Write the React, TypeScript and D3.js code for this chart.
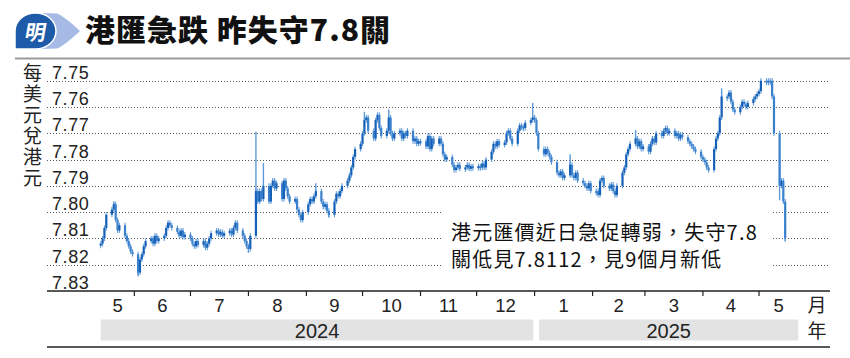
import React from "react";
import * as d3 from "d3";

// ---------- data ----------
const title = "港匯急跌 昨失守7.8關";
const yUnit = "每美元兌港元";
const noteLines = ["港元匯價近日急促轉弱，失守7.8", "關低見7.8112，見9個月新低"];
const yTickLabels = ["7.75", "7.76", "7.77", "7.78", "7.79", "7.80", "7.81", "7.82", "7.83"];
const years = ["2024", "2025"];
const startDate = "2024-05-14";
const endDate = "2025-05-15";
const axisEnd = "2025-05-22";

// daily closes (weekdays), USD/HKD
const may24 = [7.812, 7.81, 7.806, 7.801, 7.799, 7.797, 7.803, 7.807, 7.805, 7.809, 7.811, 7.813, 7.815, 7.816];
const jun24 = [7.823, 7.818, 7.816, 7.813, 7.811, 7.81, 7.812, 7.809, 7.811, 7.81, 7.809, 7.806, 7.804, 7.805, 7.806, 7.8075, 7.809, 7.807, 7.8095, 7.8085];
const jul24 = [7.81, 7.812, 7.813, 7.811, 7.8125, 7.811, 7.8135, 7.812, 7.81, 7.808, 7.807, 7.8085, 7.8075, 7.809, 7.808, 7.807, 7.8085, 7.806, 7.804, 7.807, 7.809, 7.811, 7.813];
const aug24 = [7.814, 7.809, 7.792, 7.796, 7.792, 7.795, 7.79, 7.796, 7.79, 7.788, 7.791, 7.789, 7.795, 7.788, 7.791, 7.794, 7.796, 7.795, 7.799, 7.801, 7.803, 7.8];
const sep24 = [7.797, 7.795, 7.796, 7.794, 7.792, 7.796, 7.798, 7.797, 7.7995, 7.801, 7.796, 7.793, 7.794, 7.792, 7.79, 7.788, 7.786, 7.783, 7.779, 7.776, 7.774];
const oct24 = [7.77, 7.765, 7.764, 7.769, 7.772, 7.765, 7.763, 7.768, 7.771, 7.769, 7.764, 7.77, 7.772, 7.77, 7.769, 7.772, 7.77, 7.771, 7.769, 7.773, 7.772, 7.774, 7.773];
const nov24 = [7.773, 7.775, 7.771, 7.776, 7.772, 7.774, 7.772, 7.774, 7.778, 7.78, 7.779, 7.782, 7.784, 7.783, 7.782, 7.7835, 7.783, 7.782, 7.7835, 7.7825, 7.783];
const dec24 = [7.7825, 7.783, 7.7815, 7.783, 7.78, 7.777, 7.774, 7.775, 7.773, 7.7745, 7.7735, 7.77, 7.769, 7.772, 7.774, 7.769, 7.767, 7.7675, 7.768, 7.766, 7.765, 7.764];
const jan25 = [7.765, 7.77, 7.776, 7.778, 7.776, 7.7775, 7.779, 7.781, 7.785, 7.786, 7.7845, 7.787, 7.786, 7.782, 7.786, 7.787, 7.785, 7.788, 7.789, 7.79, 7.791, 7.789, 7.792];
const feb25 = [7.792, 7.7935, 7.788, 7.787, 7.79, 7.791, 7.7895, 7.792, 7.7935, 7.79, 7.785, 7.783, 7.778, 7.776, 7.774, 7.772, 7.775, 7.773, 7.776, 7.775];
const mar25 = [7.777, 7.774, 7.772, 7.7735, 7.77, 7.771, 7.769, 7.768, 7.77, 7.769, 7.771, 7.77, 7.772, 7.7705, 7.7715, 7.773, 7.774, 7.775, 7.776, 7.777, 7.779];
const apr25 = [7.78, 7.781, 7.783, 7.784, 7.776, 7.772, 7.77, 7.764, 7.756, 7.756, 7.7545, 7.758, 7.761, 7.762, 7.76, 7.758, 7.759, 7.76, 7.7585, 7.757, 7.756, 7.755];
const may25 = [7.754, 7.75, 7.75, 7.75, 7.75, 7.756, 7.77, 7.79, 7.788, 7.796, 7.81];

// intraday extremes
const extremeDates = ["2024-05-21", "2024-06-03", "2024-08-01", "2024-08-05", "2024-08-09", "2024-09-06", "2024-09-13", "2024-10-02", "2024-10-15", "2024-12-31", "2025-01-20", "2025-02-24", "2025-04-04", "2025-04-11", "2025-05-12", "2025-05-15"];
const extremeValues = [7.796, 7.8245, 7.8155, 7.7694, 7.7813, 7.789, 7.802, 7.7618, 7.761, 7.7585, 7.778, 7.7688, 7.7846, 7.7529, 7.7955, 7.8112];

const closes = [...may24, ...jun24, ...jul24, ...aug24, ...sep24, ...oct24, ...nov24, ...dec24, ...jan25, ...feb25, ...mar25, ...apr25, ...may25];

// ---------- chart ----------
const W = 850;
const H = 358;
const parse = d3.timeParse("%Y-%m-%d");
const CJK = "'Noto Sans CJK TC', 'Noto Sans CJK SC', sans-serif";
const NUM = "'Liberation Sans', Arial, sans-serif";
const DARK = "#1660b8";
const MID = "#3a80cc";
const LIGHT = "#5e9ad8";

export default function App() {
  const d0 = parse(startDate) as Date;
  const d1 = parse(endDate) as Date;
  const dEnd = parse(axisEnd) as Date;
  const days = d3
    .timeDays(d0, d3.timeDay.offset(d1, 1))
    .filter((d) => d.getDay() !== 0 && d.getDay() !== 6);
  const n = Math.min(days.length, closes.length);

  const x = d3.scaleTime().domain([d0, dEnd]).range([100.7, 798.3]);
  const yTickValues = yTickLabels.map(Number);
  const y = d3.scaleLinear().domain([7.75, 7.83]).range([80.7, 291]);

  const gridX0 = 47;
  const gridX1 = 830;
  const axisY = y(7.83);

  const monthTicks = d3.timeMonths(d3.timeDay.offset(d0, 1), d3.timeDay.offset(dEnd, 1));
  const monthStarts = d3.timeMonth.range(d3.timeMonth.floor(d0), dEnd);
  const monthLabels = monthStarts.map((m) => {
    const a = m < d0 ? d0 : m;
    const nx = d3.timeMonth.offset(m, 1);
    const b = nx > dEnd ? dEnd : nx;
    return { label: String(m.getMonth() + 1), cx: (x(a) + x(b)) / 2 };
  });

  const jan1 = new Date(2025, 0, 1);
  const bands = [
    { label: years[0], x0: x(d0), x1: x(jan1) - 1.2 },
    { label: years[1], x0: x(jan1) + 4.5, x1: x(dEnd) },
  ];

  const dayKey = d3.timeFormat("%Y-%m-%d");
  const idxByDate = new Map<string, number>();
  days.slice(0, n).forEach((d, i) => idxByDate.set(dayKey(d), i));

  const candles = d3.range(n).map((i) => {
    const open = i > 0 ? closes[i - 1] : closes[0] + 0.0005;
    const close = closes[i];
    const ya = y(open);
    const yb = y(close);
    const top = Math.min(ya, yb);
    const h = Math.max(Math.abs(ya - yb), 2);
    return { cx: x(days[i]), top, h, up: close < open };
  });

  const extremes = extremeDates
    .map((ds, k) => {
      const i = idxByDate.get(ds);
      if (i === undefined) return null;
      const c = candles[i];
      const ye = y(extremeValues[k]);
      const yMid = c.top + c.h / 2;
      return { cx: c.cx, ya: Math.min(ye, yMid), yb: Math.max(ye, yMid) };
    })
    .filter(Boolean) as { cx: number; ya: number; yb: number }[];

  return (
    <svg
      width={W}
      height={H}
      viewBox={`0 0 ${W} ${H}`}
      style={{ position: "absolute", left: 0, top: 0, background: "#fff" }}
    >
      <rect x={0} y={0} width={W} height={H} fill="#fff" />
      {/* logo */}
      <path d="M40 13 L57 13.5 Q64 16 80 31 Q64 46 57 48.5 L40 49 Z" fill="#a5bbe6" />
      <path
        d="M15 49 L15 31 A20.5 18 0 0 1 56 31 A20.5 18 0 0 1 35.5 49 Z"
        fill="#1d5aa8"
        stroke="#fff"
        strokeWidth={1.5}
      />
      <text
        x={36}
        y={31}
        transform="skewX(-10) translate(5.5,0)"
        fill="#fff"
        fontFamily={CJK}
        fontWeight={700}
        fontSize={21}
        textAnchor="middle"
        dominantBaseline="central"
      >
        明
      </text>
      {/* title */}
      <text x={85} y={40.5} fontFamily={CJK} fontWeight={900} fontSize={30} letterSpacing={1} fill="#111">
        {title}
      </text>
      <line x1={15} x2={W} y1={58.5} y2={58.5} stroke="#9a9a9a" strokeWidth={2} />

      {/* y unit, vertical */}
      <text
        x={32.5}
        y={63}
        fontFamily={CJK}
        fontSize={19}
        letterSpacing={2}
        fill="#222"
        style={{ writingMode: "vertical-rl", textOrientation: "upright" }}
      >
        {yUnit}
      </text>

      {/* grid + y labels */}
      {yTickValues.map((v, i) =>
        i < yTickValues.length - 1 ? (
          <line
            key={"g" + i}
            x1={gridX0}
            x2={gridX1}
            y1={Math.round(y(v)) + 0.5}
            y2={Math.round(y(v)) + 0.5}
            stroke="#555"
            strokeWidth={1}
            strokeDasharray="1 2"
          />
        ) : null
      )}
      {yTickValues.map((v, i) => (
        <text key={"yl" + i} x={52} y={y(v) - 2} fontFamily={NUM} fontSize={18} letterSpacing={0.6} fill="#222">
          {yTickLabels[i]}
        </text>
      ))}

      {/* annotation backing */}
      <rect x={441} y={203} width={331} height={72} fill="#fff" />
      {noteLines.map((t, i) => (
        <text key={"n" + i} x={451} y={240 + i * 27} fontFamily={CJK} fontSize={20} letterSpacing={1.2} fill="#111">
          {t}
        </text>
      ))}

      {/* candles */}
      {extremes.map((e, i) => (
        <line key={"e" + i} x1={e.cx} x2={e.cx} y1={e.ya} y2={e.yb} stroke={LIGHT} strokeWidth={1.4} />
      ))}
      {candles.map((c, i) => (
        <g key={"c" + i}>
          <line x1={c.cx} x2={c.cx} y1={c.top - 2.5} y2={c.top + c.h + 2.5} stroke={LIGHT} strokeWidth={1.1} />
          <rect x={c.cx - 1.1} y={c.top} width={2.2} height={c.h} fill={c.up ? DARK : MID} />
        </g>
      ))}

      {/* x axis */}
      <line x1={gridX0} x2={gridX1} y1={axisY} y2={axisY} stroke="#222" strokeWidth={1.3} />
      {monthTicks.map((m, i) => (
        <line key={"t" + i} x1={x(m)} x2={x(m)} y1={axisY} y2={axisY + 5} stroke="#222" strokeWidth={1.2} />
      ))}
      {monthLabels.map((m, i) => (
        <text key={"m" + i} x={m.cx} y={311.5} fontFamily={NUM} fontSize={18.5} fill="#222" textAnchor="middle">
          {m.label}
        </text>
      ))}
      <text x={817} y={311.5} fontFamily={CJK} fontSize={19} fill="#222" textAnchor="middle">
        月
      </text>
      {bands.map((b, i) => (
        <g key={"b" + i}>
          <rect x={b.x0} y={319.5} width={b.x1 - b.x0} height={21} fill="#e3e3e3" />
          <text x={(b.x0 + b.x1) / 2} y={337.5} fontFamily={NUM} fontSize={20} fill="#222" textAnchor="middle">
            {b.label}
          </text>
        </g>
      ))}
      <text x={817} y={338} fontFamily={CJK} fontSize={19} fill="#222" textAnchor="middle">
        年
      </text>
      <line x1={gridX0} x2={gridX1} y1={347} y2={347} stroke="#222" strokeWidth={1.5} />
    </svg>
  );
}
